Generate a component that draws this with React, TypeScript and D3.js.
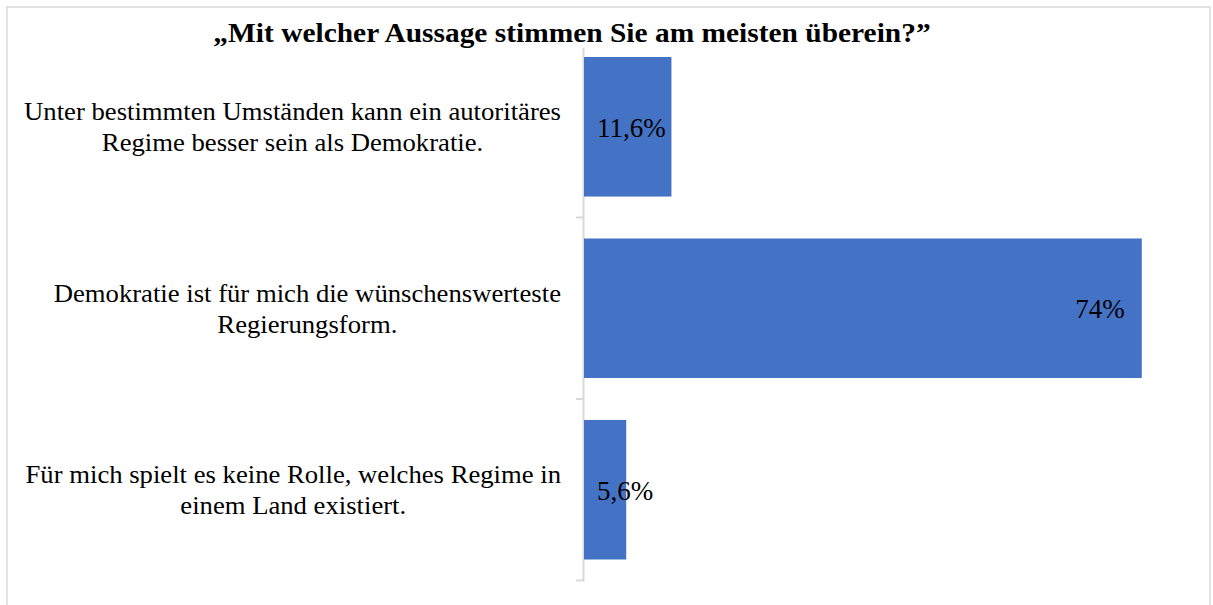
import React, { useEffect, useRef } from "react";
import * as d3 from "d3";

const title = "„Mit welcher Aussage stimmen Sie am meisten überein?”";
// each category is split into its two printed lines
const categories = [
  ["Unter bestimmten Umständen kann ein autoritäres", "Regime besser sein als Demokratie."],
  ["Demokratie ist für mich die wünschenswerteste", "Regierungsform."],
  ["Für mich spielt es keine Rolle, welches Regime in", "einem Land existiert."],
];
const values = [11.6, 74, 5.6];
const valueLabels = ["11,6%", "74%", "5,6%"];

const App = () => {
  const svgRef = useRef<SVGSVGElement>(null);

  useEffect(() => {
    const width = 1213;
    const height = 605;
    const svg = d3.select(svgRef.current)
      .attr("width", width)
      .attr("height", height);

    svg.selectAll("*").remove();

    const serif = "'Liberation Serif', 'Times New Roman', serif";
    const keys = categories.map((c, i) => String(i));

    const x = d3.scaleLinear().domain([0, 80]).range([584, 1187]);
    const y = d3.scaleBand()
      .domain(keys)
      .range([36, 580.5])
      .paddingInner(0.231)
      .paddingOuter(0.1157);

    // chart border
    svg.append("rect")
      .attr("x", 7).attr("y", 7)
      .attr("width", 1203).attr("height", 640)
      .attr("fill", "white")
      .attr("stroke", "#d9d9d9")
      .attr("stroke-width", 1.5);

    // category axis line + tick marks between categories
    const [y0, y1] = y.range();
    const g = svg.append("g").attr("stroke", "#d9d9d9").attr("stroke-width", 2);
    g.append("line")
      .attr("x1", x(0) - 0.5).attr("x2", x(0) - 0.5)
      .attr("y1", y0).attr("y2", y1 + 1);
    d3.range(1, keys.length + 1).forEach((i) => {
      const ty = y0 + i * y.step();
      g.append("line")
        .attr("x1", x(0) - 8).attr("x2", x(0))
        .attr("y1", ty).attr("y2", ty);
    });

    // bars
    svg.append("g")
      .selectAll("rect")
      .data(values)
      .join("rect")
      .attr("x", x(0))
      .attr("y", (d, i) => y(keys[i])!)
      .attr("width", (d) => x(d) - x(0))
      .attr("height", y.bandwidth())
      .attr("fill", "#4472C4");

    // category labels (slightly wide, like the original rendering)
    categories.forEach((lines, i) => {
      const cy = y(keys[i])! + y.bandwidth() / 2;
      const t = svg.append("text")
        .attr("transform", `translate(561,0) scale(1.067,1)`)
        .attr("font-family", serif)
        .attr("font-size", 25)
        .attr("fill", "#000")
        .attr("text-anchor", "middle");
      const tspans = lines.map((line, j) =>
        t.append("tspan").attr("y", cy - 6.7 + j * 31).text(line)
      );
      const w = Math.max(...tspans.map((s) => (s.node() as SVGTSpanElement).getComputedTextLength()));
      tspans.forEach((s) => s.attr("x", -w / 2));
    });

    // value labels
    values.forEach((v, i) => {
      const cy = y(keys[i])! + y.bandwidth() / 2;
      const t = svg.append("text")
        .attr("font-family", serif)
        .attr("font-size", 27)
        .attr("fill", "#000")
        .attr("y", cy + 10)
        .text(valueLabels[i]);
      const w = (t.node() as SVGTextElement).getComputedTextLength();
      t.attr("x", Math.max(x(v) - 17 - w, x(0) + 13));
    });

    // title with white box behind
    const tg = svg.append("g").attr("transform", "translate(572,42) scale(1.09,1)");
    const tt = tg.append("text")
      .attr("text-anchor", "middle")
      .attr("font-family", serif)
      .attr("font-size", 27)
      .attr("font-weight", "bold")
      .attr("fill", "#000")
      .text(title);
    const bb = (tt.node() as SVGTextElement).getBBox();
    tg.insert("rect", "text")
      .attr("x", bb.x).attr("y", bb.y)
      .attr("width", bb.width).attr("height", bb.height)
      .attr("fill", "white");
  }, []);

  return (
    <svg ref={svgRef} style={{ position: "absolute", left: 0, top: 0 }} />
  );
};

export default App;
